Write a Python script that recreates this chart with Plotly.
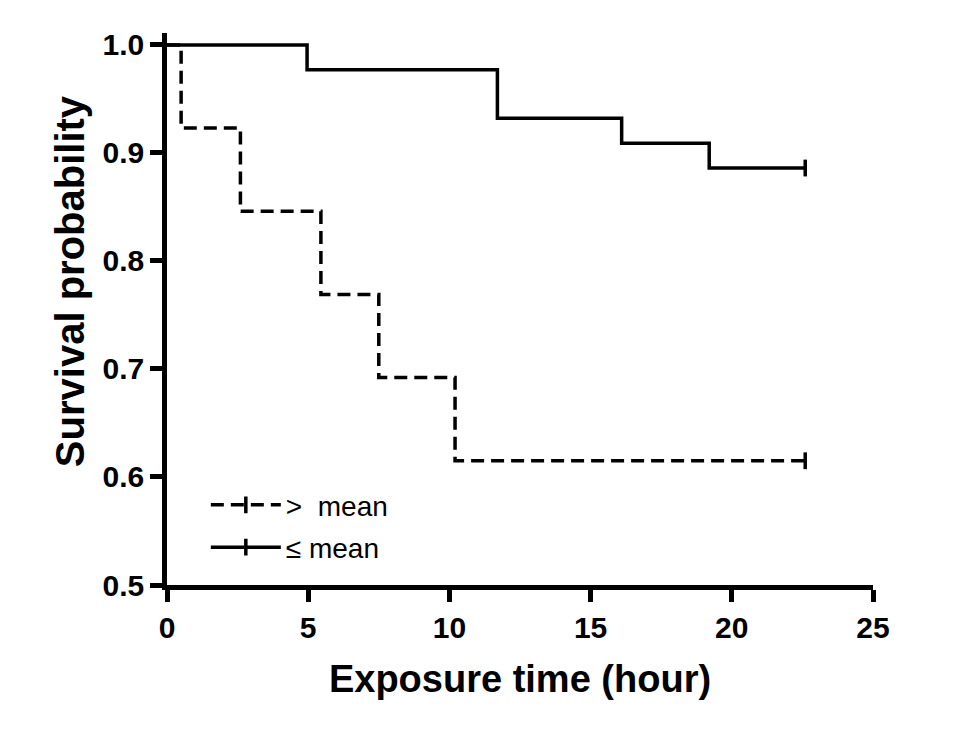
import plotly.graph_objects as go

# Data (Kaplan-Meier step curves)
t_above = [0, 0.5, 2.6, 5.45, 7.5, 10.2, 22.6]
s_above = [1.0, 0.923, 0.846, 0.769, 0.692, 0.615, 0.615]
t_below = [0, 4.96, 11.7, 16.1, 19.2, 22.6]
s_below = [1.0, 0.977, 0.932, 0.909, 0.886, 0.886]
censor_above_t = [22.6]
censor_above_s = [0.615]
censor_below_t = [22.6]
censor_below_s = [0.886]
names = ">\u00a0 mean", "\u2264 mean"
x_ticks = [0, 5, 10, 15, 20, 25]
y_ticks = [0.5, 0.6, 0.7, 0.8, 0.9, 1.0]

FAM = "Liberation Sans, Arial, sans-serif"
DASH = "13px,7px"
fig = go.Figure()

fig.add_trace(go.Scatter(x=t_above, y=s_above, mode="lines", line_shape="hv",
                         line=dict(color="black", width=3.5, dash=DASH),
                         showlegend=False, legendgroup="a", hoverinfo="skip"))
fig.add_trace(go.Scatter(x=censor_above_t, y=censor_above_s, mode="lines+markers",
                         name=names[0], legendgroup="a",
                         line=dict(color="black", width=3.5, dash=DASH),
                         marker=dict(symbol="line-ns-open", size=12,
                                     line=dict(color="black", width=3.5))))
fig.add_trace(go.Scatter(x=t_below, y=s_below, mode="lines", line_shape="hv",
                         line=dict(color="black", width=3.5),
                         showlegend=False, legendgroup="b", hoverinfo="skip"))
fig.add_trace(go.Scatter(x=censor_below_t, y=censor_below_s, mode="lines+markers",
                         name=names[1], legendgroup="b",
                         line=dict(color="black", width=3.5),
                         marker=dict(symbol="line-ns-open", size=12,
                                     line=dict(color="black", width=3.5))))

axis_font = dict(family=FAM, size=30, color="black", weight="bold")

fig.update_layout(
    width=965, height=730,
    margin=dict(l=167, r=92, t=33, b=145),
    paper_bgcolor="white", plot_bgcolor="white",
    font=dict(family=FAM, color="black"),
    xaxis=dict(range=[0, 25], tickvals=x_ticks, ticktext=[str(v) for v in x_ticks],
               showline=True, linecolor="black", linewidth=4.5,
               ticks="outside", ticklen=12, tickwidth=4.5, tickcolor="black",
               showgrid=False, zeroline=False, tickfont=axis_font,
               title=dict(text="Exposure time (hour)", standoff=24,
                          font=dict(family=FAM, size=38, color="black",
                                    weight="bold"))),
    yaxis=dict(range=[0.5, 1.011], tickvals=y_ticks,
               ticktext=["%.1f" % v for v in y_ticks],
               showline=True, linecolor="black", linewidth=4.5,
               ticks="outside", ticklen=12, tickwidth=4.5, tickcolor="black",
               showgrid=False, zeroline=False, tickfont=axis_font),
    legend=dict(x=0.055, y=0.19, xanchor="left", yanchor="top",
                bgcolor="rgba(0,0,0,0)", traceorder="grouped",
                tracegroupgap=3, itemwidth=70,
                font=dict(family=FAM, size=28, color="black")),
    annotations=[dict(text="Survival probability", textangle=-90,
                      xref="paper", yref="paper", x=-0.137, y=0.551,
                      xanchor="center", yanchor="middle", showarrow=False,
                      font=dict(family=FAM, size=40, color="black",
                                weight="bold"))],
)

fig.write_html("out.html")
